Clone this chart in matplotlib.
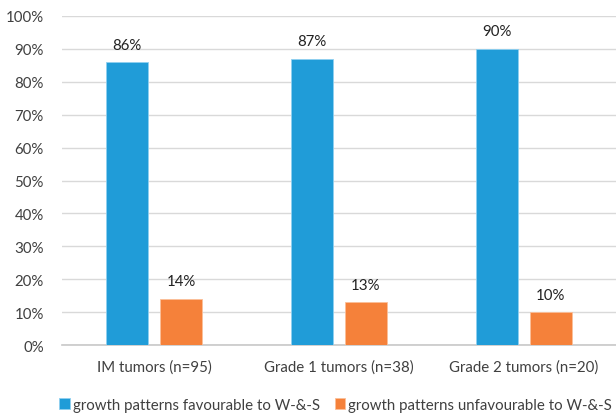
import numpy as np
import matplotlib
matplotlib.use("Agg")
from matplotlib import pyplot as plt

plt.rcParams['font.family'] = ['Lato', 'DejaVu Sans']

categories = ['IM tumors (n=95)', 'Grade 1 tumors (n=38)', 'Grade 2 tumors (n=20)']
favourable = [86, 87, 90]
unfavourable = [14, 13, 10]
series_names = ['growth patterns favourable to W-&-S', 'growth patterns unfavourable to W-&-S']

blue = '#209cd8'
orange = '#f5813a'

fig = plt.figure(figsize=(6.16, 4.14), dpi=100)
ax = fig.add_axes([0.1006, 0.164, 0.8994, 0.795])

x = np.arange(len(categories))
w = 0.227
off = 0.146
b1 = ax.bar(x - off, favourable, w, color=blue, edgecolor='#8fd0f0', linewidth=0.6,
            label=series_names[0], zorder=3)
b2 = ax.bar(x + off, unfavourable, w, color=orange, edgecolor='#fbbf99', linewidth=0.6,
            label=series_names[1], zorder=3)

for bars, vals in [(b1, favourable), (b2, unfavourable)]:
    for r, v in zip(bars, vals):
        ax.text(r.get_x() + r.get_width() / 2, v + 3.2, f'{v}%', ha='center', va='bottom',
                fontsize=10.8, color='#222222')

ax.set_xlim(-0.5, len(categories) - 0.5)
ax.set_ylim(0, 100)
ax.set_yticks(np.arange(0, 101, 10))
ax.set_yticklabels([f'{t}%' for t in range(0, 101, 10)])
ax.set_xticks(x)
ax.set_xticklabels(categories)
ax.tick_params(axis='both', length=0, labelsize=10.8, colors='#404040')
ax.tick_params(axis='y', pad=13)
ax.tick_params(axis='x', pad=10)
ax.yaxis.grid(True, color='#d9d9d9', linewidth=1, zorder=0)
for s in ['top', 'right', 'left']:
    ax.spines[s].set_visible(False)
ax.spines['bottom'].set_color('#c8c8c8')
ax.spines['bottom'].set_linewidth(1.2)

fig.legend(handles=[b1, b2], loc='lower center', bbox_to_anchor=(0.545, -0.03), ncol=2,
           frameon=False, fontsize=10.8, handlelength=0.7, handleheight=0.7,
           handletextpad=0.2, columnspacing=1.0, labelcolor='#404040')

fig.savefig('out.png', dpi=100)
